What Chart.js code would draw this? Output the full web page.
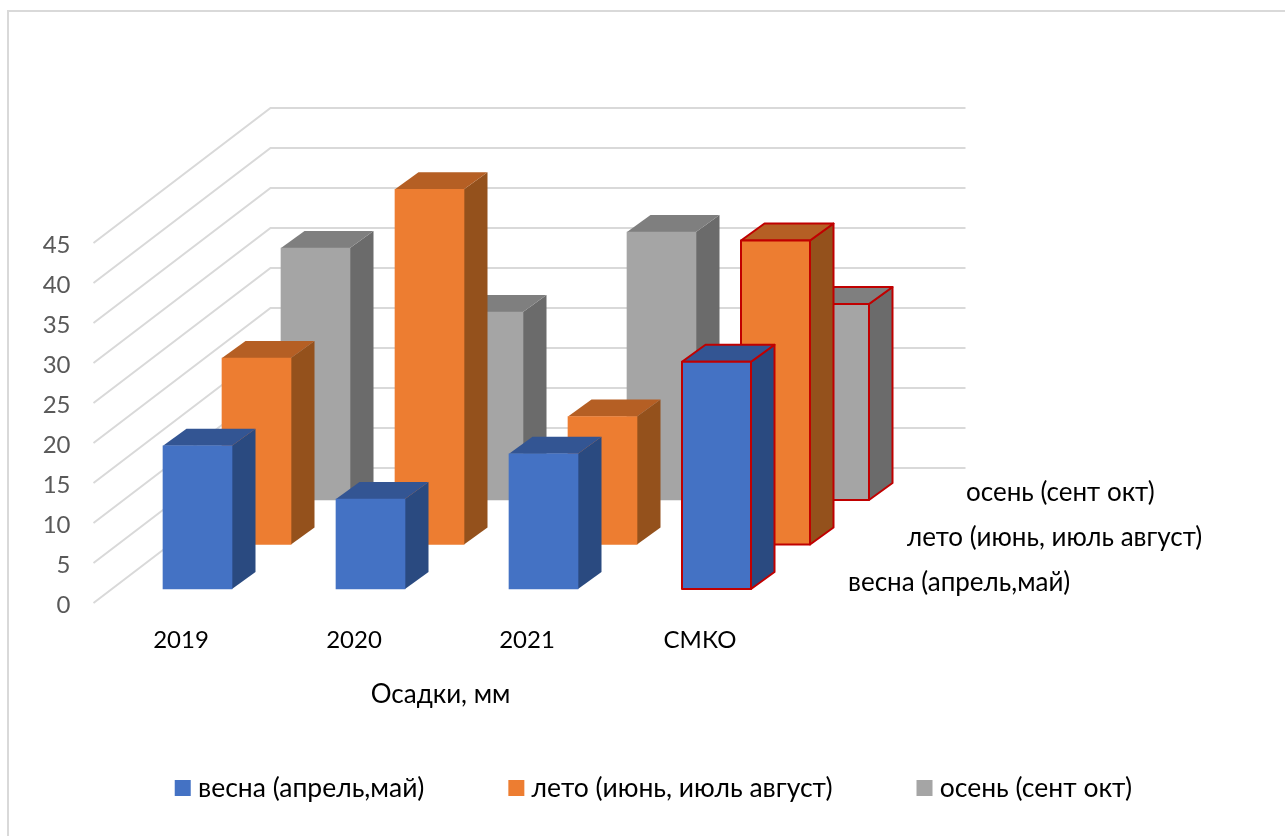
<!DOCTYPE html>
<html>
<head>
<meta charset="utf-8">
<title>Осадки, мм</title>
<script src="https://cdn.jsdelivr.net/npm/chart.js@4"></script>
<style>
  html, body { margin: 0; padding: 0; background: #fff; overflow: hidden; }
  #frame { position: absolute; left: 7px; top: 10px; width: 1400px; height: 1000px; border: 2px solid #d9d9d9; }
  #chart { position: absolute; left: 0; top: 0; }
</style>
</head>
<body>
<div id="frame"></div>
<canvas id="chart" width="1285" height="836"></canvas>
<script>
const categories = ['2019', '2020', '2021', 'СМКО'];
const seriesNames = ['весна (апрель,май)', 'лето (июнь, июль август)', 'осень (сент окт)'];
const spring = [17.9, 11.25, 16.9, 28.4];
const summer = [23.3, 44.4, 16, 38];
const autumn = [31.5, 23.5, 33.5, 24.5];

const FONT = 'Lato, "Open Sans", sans-serif';
const frontColors = ['#4472c4', '#ed7d31', '#a5a5a5'];
const topColors = ['#335593', '#b55f24', '#7f7f7f'];
const sideColors = ['#2a4a80', '#94511c', '#6b6b6b'];
const OUTLINE = '#c00000';
const outlineWidths = [0, 0, 0, 2]; // only the СМКО bars are outlined

// each series sits on its own row going into the depth of the box
const rowDx = i => 16.5 + 59 * i;
const rowDy = i => -14 - 44.5 * i;
const FACE_DX = 23.5, FACE_DY = -17;
const WALL_DX = 177, WALL_DY = -135;

function face(ctx, pts, fill, width) {
  ctx.beginPath();
  pts.forEach((p, n) => n ? ctx.lineTo(p[0], p[1]) : ctx.moveTo(p[0], p[1]));
  ctx.closePath();
  ctx.fillStyle = fill;
  ctx.fill();
  if (width) {
    ctx.strokeStyle = OUTLINE;
    ctx.lineWidth = width;
    ctx.lineJoin = 'round';
    ctx.stroke();
  }
}

const box3d = {
  id: 'box3d',
  beforeLayout(chart) {
    // the wide gap between legend items must not push the plot up
    const legend = chart.legend;
    if (legend.fitPatched) return;
    const fit = legend.fit;
    legend.fit = function () {
      fit.call(this);
      this.height = 151.25;
    };
    legend.fitPatched = true;
  },
  beforeDatasetsDraw(chart) {
    const { ctx } = chart;
    const x = chart.scales.x, y = chart.scales.y;
    ctx.save();
    ctx.strokeStyle = '#d9d9d9';
    ctx.lineWidth = 2;
    y.ticks.forEach(t => {
      const py = y.getPixelForValue(t.value);
      ctx.beginPath();
      ctx.moveTo(x.left - 1, py);
      ctx.lineTo(x.left + WALL_DX - 1, py + WALL_DY);
      ctx.lineTo(x.right + WALL_DX + 2, py + WALL_DY);
      ctx.stroke();
    });
    ctx.restore();
  },
  beforeDatasetDraw(chart, args) {
    const { ctx } = chart;
    const i = args.index;
    ctx.save();
    ctx.translate(rowDx(i), rowDy(i));
    args.meta.data.forEach((bar, n) => {
      const { x, y, base, width } = bar.getProps(['x', 'y', 'base', 'width'], true);
      const l = x - width / 2, r = x + width / 2;
      face(ctx, [[r, y], [r + FACE_DX, y + FACE_DY], [r + FACE_DX, base + FACE_DY], [r, base]], sideColors[i], outlineWidths[n]);
      face(ctx, [[l, y], [l + FACE_DX, y + FACE_DY], [r + FACE_DX, y + FACE_DY], [r, y]], topColors[i], outlineWidths[n]);
    });
  },
  afterDatasetDraw(chart, args) {
    const { ctx } = chart;
    args.meta.data.forEach((bar, n) => {
      if (!outlineWidths[n]) return;
      const { x, y, base, width } = bar.getProps(['x', 'y', 'base', 'width'], true);
      ctx.strokeStyle = OUTLINE;
      ctx.lineWidth = outlineWidths[n];
      ctx.strokeRect(x - width / 2, y, width, base - y);
    });
    ctx.restore();
  },
  afterDatasetsDraw(chart) {
    // series names along the depth axis
    const { ctx } = chart;
    const x = chart.scales.x, y = chart.scales.y;
    ctx.save();
    ctx.font = '26px ' + FONT;
    ctx.fillStyle = '#000';
    ctx.textAlign = 'left';
    ctx.textBaseline = 'middle';
    seriesNames.forEach((name, i) => {
      ctx.fillText(name, x.right + 45 + rowDx(i), y.bottom + rowDy(i) - 6 - 0.5 * i);
    });
    ctx.restore();
  }
};

const rowData = [spring, summer, autumn];

new Chart(document.getElementById('chart'), {
  type: 'bar',
  data: {
    labels: categories,
    datasets: seriesNames.map((name, i) => ({
      label: name,
      data: rowData[i],
      backgroundColor: frontColors[i],
      borderWidth: 0,
      barThickness: 69,
      grouped: false,
      clip: false
    }))
  },
  options: {
    responsive: false,
    animation: false,
    layout: { padding: { top: 243, left: 27.75, right: 0, bottom: 0 } },
    scales: {
      x: {
        grid: { display: false },
        border: { display: false },
        afterFit: axis => { axis.height = 81.75; },
        ticks: { padding: 15, color: '#000', font: { family: FONT, size: 24 } },
        title: {
          display: true,
          text: 'Осадки, мм',
          color: '#000',
          font: { family: FONT, size: 26 },
          padding: { top: 0, bottom: -25 }
        }
      },
      y: {
        min: 0,
        max: 45,
        grid: { display: false },
        border: { display: false },
        afterFit: axis => { axis.width = 66.75; },
        ticks: { stepSize: 5, padding: 16, labelOffset: 2, color: '#595959', font: { family: FONT, size: 24 } }
      },
      // empty axis that keeps the right part of the canvas free for the depth labels
      rightSpace: {
        type: 'linear',
        position: 'right',
        display: true,
        grid: { display: false },
        border: { display: false },
        ticks: { display: false },
        afterFit: axis => { axis.width = 498.5; }
      }
    },
    plugins: {
      tooltip: { enabled: false },
      legend: {
        position: 'bottom',
        labels: {
          boxWidth: 4,
          boxHeight: 4,
          padding: 90,
          color: '#000',
          font: { family: FONT, size: 26.5 },
          generateLabels: chart => chart.data.datasets.map((ds, i) => ({
            text: ds.label,
            fillStyle: frontColors[i],
            strokeStyle: frontColors[i],
            lineWidth: 12,
            datasetIndex: i
          }))
        }
      }
    }
  },
  plugins: [box3d]
});
</script>
</body>
</html>
